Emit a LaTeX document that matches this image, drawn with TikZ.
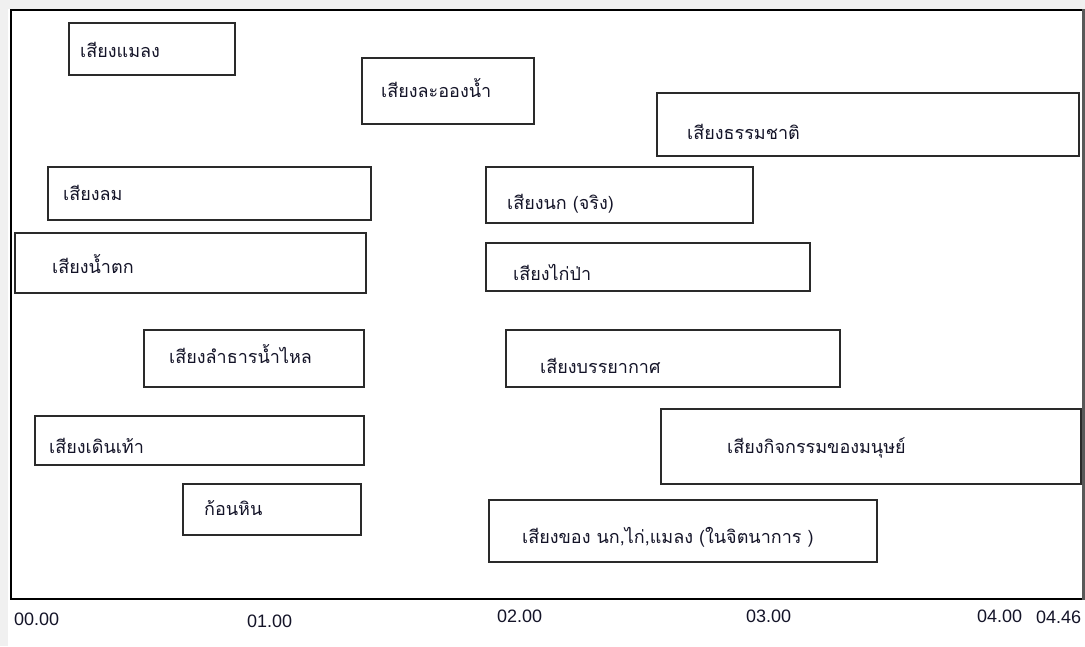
\documentclass[tikz,border=0pt]{standalone}
\usepackage{fontspec}
\setmainfont{Liberation Sans}
\newfontfamily\thaifont[Script=Thai]{Loma}
\definecolor{edge}{HTML}{2A2A2A}
\definecolor{strip}{HTML}{F0F0F0}
\definecolor{ink}{HTML}{141428}
\begin{document}
\begin{tikzpicture}[x=1pt,y=-1pt,
  box/.style={draw=edge,line width=1.5pt,inner sep=0pt,anchor=north west},
  lbl/.style={anchor=base west,inner sep=0pt,text=ink,font=\thaifont\fontsize{18}{20}\selectfont},
  tick/.style={anchor=base west,inner sep=0pt,text=ink,font=\fontsize{18}{20}\selectfont}]
\useasboundingbox (0,0) rectangle (1085,646);
\fill[white] (0,0) rectangle (1085,646);
\fill[strip] (0,0) rectangle (1085,9);
\fill[strip] (0,0) rectangle (8,646);
\node[draw=black,line width=1.5pt,inner sep=0pt,anchor=north west,minimum width=1072pt,minimum height=589pt] (frame) at (10,9) {};
\draw[gray!70!black,line width=2.2pt] (frame.north east) -- (frame.south east);
% boxes
\node[box,minimum width=166pt,minimum height=52pt] (b1) at (68,22) {};
\node[box,minimum width=172pt,minimum height=66pt] (b2) at (361,57) {};
\node[box,minimum width=422pt,minimum height=63pt] (b3) at (656,92) {};
\node[box,minimum width=323pt,minimum height=53pt] (b4) at (47,166) {};
\node[box,minimum width=351pt,minimum height=60pt] (b5) at (14,232) {};
\node[box,minimum width=267pt,minimum height=56pt] (b6) at (485,166) {};
\node[box,minimum width=324pt,minimum height=48pt] (b7) at (485,242) {};
\node[box,minimum width=220pt,minimum height=57pt] (b8) at (143,329) {};
\node[box,minimum width=329pt,minimum height=49pt] (b9) at (34,415) {};
\node[box,minimum width=178pt,minimum height=51pt] (b10) at (182,483) {};
\node[box,minimum width=334pt,minimum height=57pt] (b11) at (505,329) {};
\node[box,minimum width=420pt,minimum height=75pt] (b12) at (660,408) {};
\node[box,minimum width=388pt,minimum height=62pt] (b13) at (488,499) {};
% labels
\node[lbl] (t1) at (80,57) {เสียงแมลง};
\node[lbl] (t2) at (381,97) {เสียงละอองน้ำ};
\node[lbl] (t3) at (687,139) {เสียงธรรมชาติ};
\node[lbl] (t4) at (63,200) {เสียงลม};
\node[lbl] (t5) at (52,273) {เสียงน้ำตก};
\node[lbl] (t6) at (507,209) {เสียงนก (จริง)};
\node[lbl] (t7) at (513,280) {เสียงไก่ป่า};
\node[lbl] (t8) at (169,363) {เสียงลำธารน้ำไหล};
\node[lbl] (t9) at (49,453) {เสียงเดินเท้า};
\node[lbl] (t10) at (204,515) {ก้อนหิน};
\node[lbl] (t11) at (540,373) {เสียงบรรยากาศ};
\node[lbl] (t12) at (727,453) {เสียงกิจกรรมของมนุษย์};
\node[lbl] (t13) at (522,543) {เสียงของ นก,ไก่,แมลง (ในจิตนาการ )};
% axis labels
\node[tick] (x0) at (14,625) {00.00};
\node[tick] (x1) at (247,627) {01.00};
\node[tick] (x2) at (497,622) {02.00};
\node[tick] (x3) at (746,622) {03.00};
\node[tick] (x4) at (977,622) {04.00};
\node[tick] (x5) at (1036,623) {04.46};
\end{tikzpicture}
\end{document}
